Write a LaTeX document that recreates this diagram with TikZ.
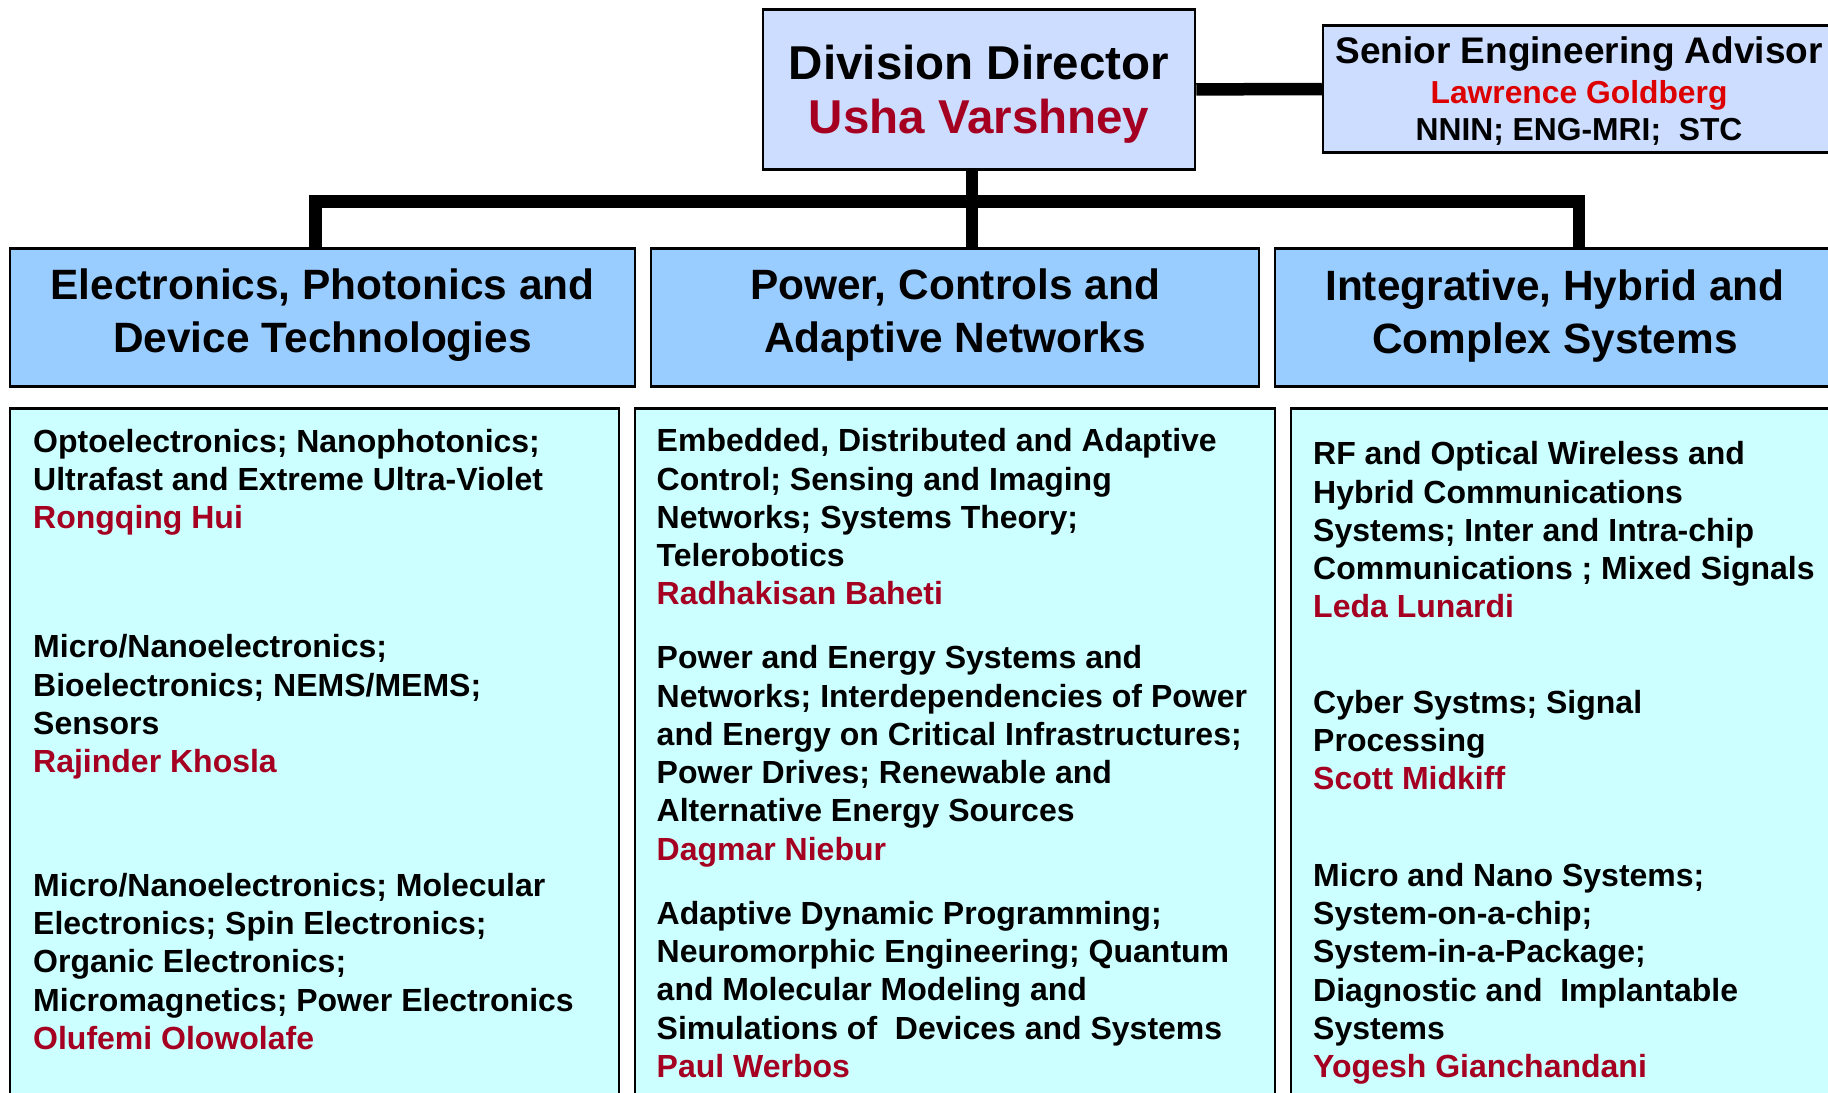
\documentclass[tikz,border=0pt]{standalone}
\usepackage{fontspec}
\setmainfont{Liberation Sans}
\definecolor{dirfill}{HTML}{CCDDFF}
\definecolor{headfill}{HTML}{99CCFF}
\definecolor{bodyfill}{HTML}{CCFFFF}
\definecolor{nmred}{HTML}{A50021}
\definecolor{advred}{HTML}{DD0000}
\tikzset{
  boxshape/.style={draw=black, line width=2.5pt, rectangle, inner sep=0pt},
  dirbox/.style={boxshape, fill=dirfill},
  headbox/.style={boxshape, fill=headfill, minimum height=138pt},
  bodybox/.style={boxshape, fill=bodyfill, minimum height=701.5pt},
  conn/.style={line width=12.5pt, black, line join=miter},
  bodytxt/.style={anchor=north west, inner sep=0pt, align=left,
    font=\bfseries\fontsize{32}{38.3}\selectfont},
  headtxt/.style={anchor=north, inner sep=0pt, align=center,
    font=\bfseries\fontsize{42.4}{53}\selectfont},
  dirtxt/.style={anchor=north, inner sep=0pt, align=center,
    font=\bfseries\fontsize{47.5}{54}\selectfont},
  advtxt/.style={anchor=base, inner sep=0pt}
}
\begin{document}
\begin{tikzpicture}[x=1pt,y=-1pt]
\useasboundingbox (0,0) rectangle (1828,1092);
\clip (0,0) rectangle (1828,1092);

% boxes
\node[dirbox, minimum width=432pt, minimum height=159.8pt] (dir) at (979,89.4) {};
\node[dirbox, minimum width=512pt, minimum height=127pt] (adv) at (1579,89) {};

\node[headbox, minimum width=625pt] (lh) at (322.5,317.5) {};
\node[headbox, minimum width=608pt] (mh) at (955,317.5) {};
\node[headbox, minimum width=560pt] (rh) at (1555,317.5) {};

\node[bodybox, minimum width=609pt] (lb) at (314.5,759.25) {};
\node[bodybox, minimum width=640pt] (mb) at (955,759.25) {};
\node[bodybox, minimum width=549pt] (rb) at (1565.5,759.25) {};

% connectors
\coordinate (vx) at (972,0);
\coordinate (bL) at (315.5,201.5);
\coordinate (bR) at (1579,201.5);
\draw[conn] (dir.east) -- (adv.west);
\draw[conn] (dir.south -| vx) -- (mh.north -| vx);
\draw[conn] (lh.north -| bL) -- (bL) -- (bR) -- (rh.north -| bR);

% director text
\node[dirtxt] (dirT) at (979,43.5) {\rule{0pt}{36pt}Division Director\\\textcolor{nmred}{Usha Varshney}};

% advisor text
\node[advtxt, font=\bfseries\fontsize{37}{44}\selectfont] (advT) at (1579,63.3) {Senior Engineering Advisor};
\node[advtxt, font=\bfseries\fontsize{31.8}{38}\selectfont, text=advred] (advN) at (1579,103.3) {Lawrence Goldberg};
\node[advtxt, font=\bfseries\fontsize{31.8}{38}\selectfont] (advU) at (1579,140.7) {NNIN; ENG-MRI;\ \ STC};

% header text
\node[headtxt] (lhT) at (322.5,267.5) {\rule{0pt}{32pt}Electronics, Photonics and\\Device Technologies};
\node[headtxt] (mhT) at (955,267.5) {\rule{0pt}{32pt}Power, Controls and\\Adaptive Networks};
\node[headtxt] (rhT) at (1555,268.5) {\rule{0pt}{32pt}Integrative, Hybrid and\\Complex Systems};

% left column
\node[bodytxt] (l1) at (33,428) {\rule{0pt}{24pt}Optoelectronics; Nanophotonics;\\Ultrafast and Extreme Ultra-Violet\\\textcolor{nmred}{Rongqing Hui}};
\node[bodytxt] (l2) at (33,633.5) {\rule{0pt}{24pt}Micro/Nanoelectronics;\\Bioelectronics; NEMS/MEMS;\\Sensors\\\textcolor{nmred}{Rajinder Khosla}};
\node[bodytxt] (l3) at (33,872) {\rule{0pt}{24pt}Micro/Nanoelectronics; Molecular\\Electronics; Spin Electronics;\\Organic Electronics;\\Micromagnetics; Power Electronics\\\textcolor{nmred}{Olufemi Olowolafe}};

% middle column
\node[bodytxt] (m1) at (656.5,427.5) {\rule{0pt}{24pt}Embedded, Distributed and Adaptive\\Control; Sensing and Imaging\\Networks; Systems Theory;\\Telerobotics\\\textcolor{nmred}{Radhakisan Baheti}};
\node[bodytxt] (m2) at (656.5,644.5) {\rule{0pt}{24pt}Power and Energy Systems and\\Networks; Interdependencies of Power\\and Energy on Critical Infrastructures;\\Power Drives; Renewable and\\Alternative Energy Sources\\\textcolor{nmred}{Dagmar Niebur}};
\node[bodytxt] (m3) at (656.5,900) {\rule{0pt}{24pt}Adaptive Dynamic Programming;\\Neuromorphic Engineering; Quantum\\and Molecular Modeling and\\Simulations of\ \ Devices and Systems\\\textcolor{nmred}{Paul Werbos}};

% right column
\node[bodytxt] (r1) at (1313,440.5) {\rule{0pt}{24pt}RF and Optical Wireless and\\Hybrid Communications\\Systems; Inter and Intra-chip\\Communications ; Mixed Signals\\\textcolor{nmred}{Leda Lunardi}};
\node[bodytxt] (r2) at (1313,689) {\rule{0pt}{24pt}Cyber Systms; Signal\\Processing\\\textcolor{nmred}{Scott Midkiff}};
\node[bodytxt] (r3) at (1313,862) {\rule{0pt}{24pt}Micro and Nano Systems;\\System-on-a-chip;\\System-in-a-Package;\\Diagnostic and\ \ Implantable\\Systems\\\textcolor{nmred}{Yogesh Gianchandani}};
\end{tikzpicture}
\end{document}
